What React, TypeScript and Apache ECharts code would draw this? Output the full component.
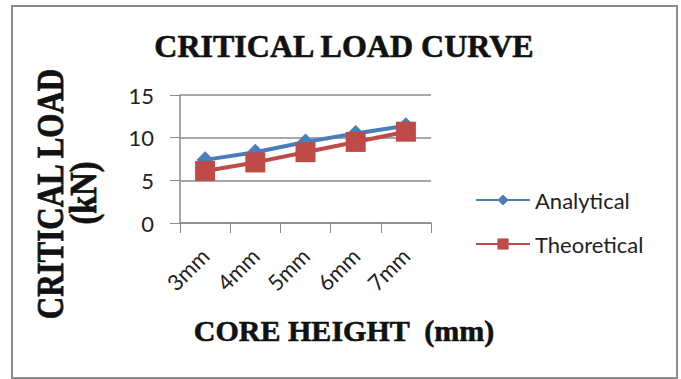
import React, { useEffect, useRef } from "react";
import * as echarts from "echarts";

const categories = ["3mm", "4mm", "5mm", "6mm", "7mm"];
const analytical = [7.4, 8.3, 9.5, 10.5, 11.4];
const theoretical = [6.1, 7.1, 8.3, 9.5, 10.7];
const yTicks = { min: 0, max: 15, interval: 5 };

const titleText = "CRITICAL LOAD CURVE";
const yTitle1 = "CRITICAL LOAD";
const yTitle2 = "(kN)";
const xTitle = "CORE HEIGHT  (mm)";

const SERIF = "'Liberation Serif', 'Times New Roman', serif";
const SANS = "Lato, 'Open Sans', sans-serif";

export default function App() {
  const ref = useRef<HTMLDivElement>(null);
  useEffect(() => {
    if (!ref.current) return;
    const chart = echarts.init(ref.current, undefined, { renderer: "svg" });
    chart.setOption({
      animation: false,
      backgroundColor: "#ffffff",
      graphic: [
        {
          type: "rect",
          shape: { x: 12, y: 6, width: 665, height: 372 },
          style: { fill: "none", stroke: "#8c8c8c", lineWidth: 2 },
          silent: true,
        },
        {
          type: "text",
          x: 344,
          y: 46,
          style: {
            text: titleText,
            font: `bold 32px ${SERIF}`,
            fill: "#111",
            stroke: "#111",
            lineWidth: 0.6,
            textAlign: "center",
            textVerticalAlign: "middle",
          },
        },
        {
          type: "text",
          x: 50,
          y: 194,
          rotation: Math.PI / 2,
          scaleX: 0.815,
          style: {
            text: yTitle1,
            font: `bold 38px ${SERIF}`,
            fill: "#111",
            stroke: "#111",
            lineWidth: 0.8,
            textAlign: "center",
            textVerticalAlign: "middle",
          },
        },
        {
          type: "text",
          x: 84,
          y: 193,
          rotation: Math.PI / 2,
          scaleX: 0.85,
          style: {
            text: yTitle2,
            font: `bold 38px ${SERIF}`,
            fill: "#111",
            stroke: "#111",
            lineWidth: 0.8,
            textAlign: "center",
            textVerticalAlign: "middle",
          },
        },
        {
          type: "text",
          x: 344,
          y: 330,
          style: {
            text: xTitle,
            font: `bold 30px ${SERIF}`,
            fill: "#111",
            stroke: "#111",
            lineWidth: 0.6,
            textAlign: "center",
            textVerticalAlign: "middle",
          },
        },
      ],
      grid: {
        left: 180,
        top: 95,
        right: 250,
        bottom: 156,
        containLabel: false,
        outerBoundsMode: "none",
      },
      legend: {
        orient: "vertical",
        left: 470,
        top: 184,
        itemWidth: 54,
        itemHeight: 14,
        itemGap: 22,
        textStyle: { fontFamily: SANS, fontSize: 22, color: "#222" },
        data: ["Analytical", "Theoretical"],
      },
      xAxis: {
        type: "category",
        data: categories,
        boundaryGap: true,
        axisLine: { show: true, lineStyle: { color: "#8a8a8a", width: 1.5 } },
        axisTick: { show: true, length: 10, inside: false, lineStyle: { color: "#8a8a8a" } },
        axisLabel: {
          rotate: 45,
          margin: 29,
          fontFamily: SANS,
          fontSize: 22,
          color: "#222",
        },
        splitLine: { show: false },
      },
      yAxis: {
        type: "value",
        min: yTicks.min,
        max: yTicks.max,
        interval: yTicks.interval,
        axisLine: { show: true, lineStyle: { color: "#8a8a8a", width: 1.5 } },
        axisTick: { show: true, length: 10, inside: false, lineStyle: { color: "#8a8a8a" } },
        axisLabel: {
          margin: 26,
          fontFamily: SANS,
          fontSize: 22,
          color: "#222",
        },
        splitLine: { show: true, lineStyle: { color: "#8a8a8a", width: 1.5 } },
      },
      series: [
        {
          name: "Analytical",
          type: "line",
          data: analytical,
          symbol: "diamond",
          symbolSize: 17,
          color: "#4A7EBB",
          lineStyle: { width: 4, color: "#4A7EBB" },
          itemStyle: { color: "#4A7EBB" },
        },
        {
          name: "Theoretical",
          type: "line",
          data: theoretical,
          symbol: "rect",
          symbolSize: 20,
          color: "#BE4B48",
          lineStyle: { width: 4, color: "#BE4B48" },
          itemStyle: { color: "#BE4B48" },
        },
      ],
    });
    return () => chart.dispose();
  }, []);
  return (
    <div
      ref={ref}
      style={{ position: "absolute", left: 0, top: 0, width: 681, height: 379 }}
    />
  );
}
